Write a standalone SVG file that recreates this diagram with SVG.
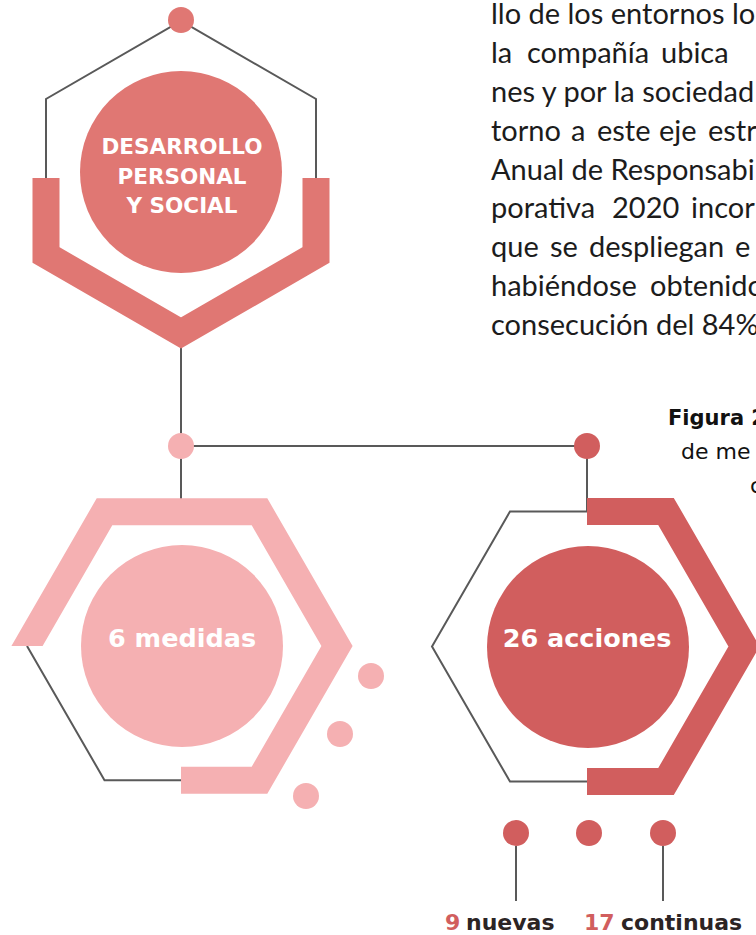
<svg xmlns="http://www.w3.org/2000/svg" width="756" height="935" viewBox="0 0 756 935">
<style>
.ln{fill:none;stroke:#595959;stroke-width:2}
.band{fill:none;stroke-width:27;stroke-linejoin:miter;stroke-linecap:butt}
.t1{fill:#E07773}.s1{stroke:#E07773}
.t2{fill:#F5B0B2}.s2{stroke:#F5B0B2}
.t3{fill:#D15E5E}.s3{stroke:#D15E5E}
.ct{font-family:"DejaVu Sans",sans-serif;font-weight:bold;fill:#fff;text-anchor:middle}
.body{font-family:Lato,"Liberation Sans",sans-serif;font-size:29px;fill:#1c1c1c}
.cap{font-family:"DejaVu Sans",sans-serif;font-size:22px;fill:#111}
.lab{font-family:"DejaVu Sans",sans-serif;font-weight:bold;font-size:22px;fill:#2b2424}
</style>
<rect width="756" height="935" fill="#fff"/>

<g id="body-text" class="body">
<text x="491" y="24">llo de los entornos lo</text>
<text y="63"><tspan x="491">la</tspan><tspan x="527">compañía</tspan><tspan x="661">ubica</tspan></text>
<text x="491" y="102">nes y por la sociedad</text>
<text y="141"><tspan x="491">torno</tspan><tspan x="571">a</tspan><tspan x="597">este</tspan><tspan x="659">eje</tspan><tspan x="708">estr</tspan></text>
<text x="491" y="180">Anual de Responsabil</text>
<text y="218"><tspan x="491">porativa</tspan><tspan x="612">2020</tspan><tspan x="691">incorp</tspan></text>
<text y="257"><tspan x="491">que</tspan><tspan x="550">se</tspan><tspan x="589">despliegan</tspan><tspan x="735">e</tspan></text>
<text y="296"><tspan x="491">habiéndose</tspan><tspan x="650">obtenido</tspan></text>
<text x="491" y="335">consecución del 84%</text>
</g>

<g id="caption" class="cap">
<text x="668" y="425" font-weight="bold" font-size="21">Figura 2</text>
<text x="681" y="459">de me</text>
<text x="750" y="493">c</text>
</g>

<g id="connectors">
<path class="ln" d="M181,340 V512"/>
<path class="ln" d="M181,446 H587 V512"/>
<path class="ln" d="M516,846 V901 M663,846 V901"/>
</g>

<g id="node-desarrollo">
<path class="ln" d="M46,178 V99 L181,21 L316,99 V178"/>
<path class="band s1" d="M46,178 V255 L181,333 L316,255 V178"/>
<circle class="t1" cx="181" cy="20" r="13"/>
<circle class="t1" cx="181" cy="172" r="101"/>
<text class="ct" font-size="21.5" x="182" y="154">DESARROLLO</text>
<text class="ct" font-size="21.5" x="182" y="184">PERSONAL</text>
<text class="ct" font-size="21.5" x="182" y="213">Y SOCIAL</text>
</g>

<g id="node-medidas">
<path class="ln" d="M27,646 L104.5,780.2 H182"/>
<polygon class="t2" points="11.4,646 96.7,498.3 267.3,498.3 352.6,646 267.3,793.7 181,793.7 181,766.7 251.7,766.7 321.4,646 251.7,525.3 112.3,525.3 42.6,646"/>
<circle class="t2" cx="181" cy="446" r="13"/>
<circle class="t2" cx="182" cy="646" r="101"/>
<text class="ct" font-size="25.5" x="182" y="647">6 medidas</text>
<circle class="t2" cx="371" cy="676" r="13"/>
<circle class="t2" cx="340" cy="734" r="13"/>
<circle class="t2" cx="306" cy="796" r="13"/>
</g>

<g id="node-acciones">
<path class="ln" d="M588,511.4 H510 L432,646.5 L510,781.6 H588"/>
<path class="band s3" d="M587,511.4 H666 L744,646.5 L666,781.6 H587"/>
<circle class="t3" cx="587" cy="446" r="13"/>
<circle class="t3" cx="588" cy="647" r="101"/>
<text class="ct" font-size="25.5" x="587" y="647">26 acciones</text>
<circle class="t3" cx="516" cy="833" r="13"/>
<circle class="t3" cx="589" cy="833" r="13"/>
<circle class="t3" cx="663" cy="833" r="13"/>
</g>

<g id="labels" class="lab">
<text y="930"><tspan x="445" fill="#D15E5E">9</tspan><tspan x="466">nuevas</tspan></text>
<text y="930"><tspan x="584" fill="#D15E5E">17</tspan><tspan x="621">continuas</tspan></text>
</g>
</svg>
